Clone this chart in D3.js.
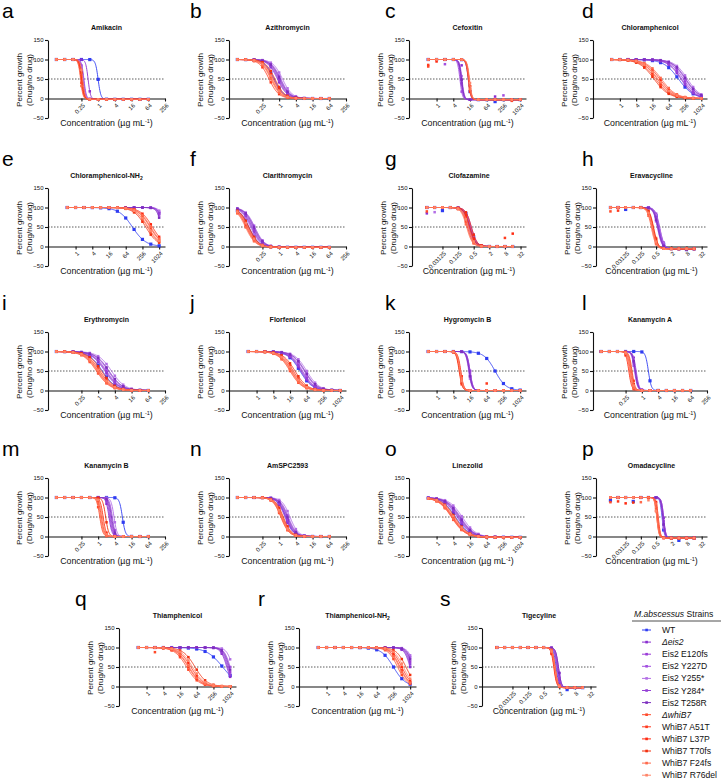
<!DOCTYPE html>
<html>
<head>
<meta charset="utf-8">
<script src="https://cdn.jsdelivr.net/npm/d3@7"></script>
<style>
body { margin: 0; background: #fff; }
text { font-family: "Liberation Sans", Arial, sans-serif; fill: #111; }
</style>
</head>
<body>
<svg id="fig" width="721" height="782"></svg>
<script>
// strains, in legend order
var strains = ['WT', 'Δeis2', 'Eis2 E120fs', 'Eis2 Y227D', 'Eis2 Y255*', 'Eis2 Y284*', 'Eis2 T258R',
               'ΔwhiB7', 'WhiB7 A51T', 'WhiB7 L37P', 'WhiB7 T70fs', 'WhiB7 F24fs', 'WhiB7 R76del'];
var strainColors = ['#2f3cf2', '#8a2fd0', '#9b3bd8', '#a24fe0', '#b36ee6', '#9440d6', '#7d2fbf',
                    '#ff4a2a', '#ff3a1e', '#ff2a12', '#f2300f', '#ff6a4c', '#ff8468'];

var drugs = ['Amikacin', 'Azithromycin', 'Cefoxitin', 'Chloramphenicol', 'Chloramphenicol-NH2',
             'Clarithromycin', 'Clofazamine', 'Eravacycline', 'Erythromycin', 'Florfenicol',
             'Hygromycin B', 'Kanamycin A', 'Kanamycin B', 'AmSPC2593', 'Linezolid',
             'Omadacycline', 'Thiamphenicol', 'Thiamphenicol-NH2', 'Tigecyline'];
var letters = 'abcdefghijklmnopqrs'.split('');
var axisKind = ['A','A','C','C','C','A','G','G','A','C','C','A','A','A','C','G','C','C','G'];

// concentration series (µg/mL) and tick labels for each axis kind
var dosesA = [0.03125, 0.0625, 0.125, 0.25, 0.5, 1, 2, 4, 8, 16, 32, 64];
var dosesC = [0.5, 1, 2, 4, 8, 16, 32, 64, 128, 256, 512, 1024];
var dosesG = [0.0078125, 0.015625, 0.03125, 0.0625, 0.125, 0.25, 0.5, 1, 2, 4, 8, 16];
var ticksA = ['0.25', '1', '4', '16', '64', '256'];
var ticksC = ['1', '4', '16', '64', '256', '1024'];
var ticksG = ['0.03125', '0.125', '0.5', '2', '8', '32'];

// fitted log2 IC50 per drug (rows) and strain (columns)
var logIC50 = [
  [0.0, -1.2, -1.75, -1.7, -1.8, -1.85, -1.9, -2.0, -1.95, -2.05, -1.9, -2.1, -1.85],
  [-0.6, -0.2, 0.0, 0.2, 0.4, -0.1, 0.1, -0.9, -1.2, -0.7, -0.5, -1.0, -0.8],
  [3.8, 2.9, 3.0, 2.8, 3.05, 2.95, 3.0, 3.85, 3.9, 3.8, 3.9, 3.85, 3.95],
  [7.2, 7.5, 7.8, 8.0, 8.3, 7.6, 8.1, 4.4, 4.6, 4.9, 4.2, 5.1, 4.7],
  [6.8, 10.5, 10.6, 10.4, 10.7, 10.5, 10.3, 8.6, 8.9, 9.2, 8.4, 9.0, 8.7],
  [-3.6, -3.3, -3.1, -2.9, -3.4, -3.2, -3.0, -3.8, -3.9, -3.7, -3.6, -4.0, -3.75],
  [-1.4, -1.5, -1.3, -1.6, -1.4, -1.7, -1.5, -1.6, -1.8, -1.5, -1.3, -1.9, -1.7],
  [-0.6, -0.5, -0.7, -0.8, -0.55, -0.65, -0.75, -1.3, -1.4, -1.5, -1.35, -1.6, -1.45],
  [0.5, 0.8, 1.0, 1.2, 1.6, 0.9, 1.3, -0.2, 0.0, 0.2, 0.4, -0.1, 0.1],
  [5.2, 5.3, 5.5, 5.7, 6.0, 5.4, 5.8, 4.0, 4.2, 4.4, 4.6, 4.1, 4.3],
  [7.0, 3.9, 4.0, 3.95, 3.85, 4.0, 3.9, 2.8, 2.7, 2.9, 2.75, 2.85, 2.8],
  [0.8, -0.7, -0.8, -0.9, -0.75, -0.85, -0.8, -1.2, -1.4, -1.6, -1.3, -1.5, -1.35],
  [2.9, 1.3, 1.5, 1.7, 1.9, 1.4, 1.6, 0.2, 0.4, 0.6, 0.9, 0.3, 0.5],
  [0.8, 0.7, 0.9, 1.1, 1.3, 0.8, 1.0, 0.2, 0.3, 0.4, 0.5, 0.25, 0.35],
  [2.3, 2.5, 2.7, 2.9, 3.1, 2.6, 2.8, 1.8, 1.9, 2.0, 2.2, 1.85, 2.1],
  [-0.2, -0.1, 0.0, -0.05, -0.15, 0.0, -0.1, -0.8, -0.9, -0.7, -0.85, -0.75, -0.9],
  [9.1, 9.6, 9.8, 10.0, 10.3, 9.7, 9.9, 4.8, 5.0, 5.3, 5.8, 5.1, 5.5],
  [8.0, 10.0, 10.2, 10.4, 10.5, 10.1, 10.3, 8.5, 8.8, 9.0, 9.5, 8.7, 9.2],
  [0.6, 0.8, 0.9, 0.7, 0.85, 0.75, 0.9, 0.35, 0.4, 0.3, 0.45, 0.5, 0.4]
];
// hill slope per drug: [WT, Eis2 strains, WhiB7 strains]
var hillSlope = [
  [9, 10, 10], [2.5, 2.5, 2.5], [10, 10, 10], [1.6, 1.8, 1.6], [1.8, 5, 2],
  [2.5, 2.5, 2.5], [4, 4, 4], [5, 5, 5], [1.8, 1.8, 1.8], [2, 2, 2],
  [2.2, 8, 8], [8, 8, 8], [8, 8, 8], [3, 3, 3], [1.8, 1.8, 1.8],
  [10, 10, 10], [1.5, 4, 2], [2, 4, 2.5], [8, 8, 8]
];
// bottom plateau (% growth) per drug
var bottomPct = [-2, 0, -3, 0, 0, -2, 0, -6, 0, 0, 0, 0, 0, 0, -2, -4, 0, 0, -3];

// measured points that sit off the fitted curve: [drug, strain, dose index, % growth]
var offCurvePoints = [
  [0, 3, 3, 68], [0, 7, 3, 52],
  [2, 7, 0, 82], [2, 8, 0, 86], [2, 9, 1, 95], [2, 3, 2, 88], [2, 1, 4, 85],
  [2, 3, 9, 8], [2, 1, 8, 5], [2, 0, 8, -8], [2, 7, 10, -6],
  [6, 1, 0, 85], [6, 7, 0, 90], [6, 4, 1, 88], [6, 0, 2, 92], [6, 8, 10, 22], [6, 9, 11, 33],
  [7, 7, 0, 90], [7, 8, 1, 92], [7, 0, 2, 95], [7, 0, 10, -8],
  [10, 8, 7, 18],
  [15, 7, 0, 88], [15, 8, 1, 90], [15, 9, 2, 85], [15, 0, 0, 92], [15, 10, 3, 87],
  [15, 0, 3, 90], [15, 11, 4, 88], [15, 12, 5, 93], [15, 0, 9, -10],
  [16, 7, 2, 88], [18, 0, 9, -8]
];

var svg = d3.select('#fig');
svg.append('rect').attr('width', 721).attr('height', 782).attr('fill', '#fff');

var colX = [48, 229, 409, 593];
var colW = [117, 117, 117, 114];
var rowTop = [40, 188, 332, 478, 628];
var row5X = [119, 299, 479];
var letterX = [2, 190, 385, 582];
var row5LetterX = [75, 258, 440];
var plotH = 78;

var kinds = {
  A: {doses: dosesA, ticks: ticksA, domain: [-6, 8]},
  C: {doses: dosesC, ticks: ticksC, domain: [-3.3, 10.7]},
  G: {doses: dosesG, ticks: ticksG, domain: [-8.9, 5.7]}
};

function groupOf(s) { return s === 0 ? 0 : (s < 7 ? 1 : 2); }

drugs.forEach(function(drug, i) {
  var row, x0, w, lx;
  if (i < 16) {
    row = Math.floor(i / 4);
    x0 = colX[i % 4]; w = colW[i % 4]; lx = letterX[i % 4];
  } else {
    row = 4;
    x0 = row5X[i - 16]; w = 117; lx = row5LetterX[i - 16];
  }
  var top = rowTop[row];
  var kind = kinds[axisKind[i]];
  if (axisKind[i] === 'G') { x0 += 3; w -= 3; }

  var x = d3.scaleLinear().domain(kind.domain).range([x0, x0 + w]);
  var y = d3.scaleLinear().domain([-50, 150]).range([top + plotH, top]);

  var g = svg.append('g');

  g.append('text').attr('x', lx).attr('y', top - 22)
    .style('font-size', '21px').style('fill', '#000').text(letters[i]);

  var title = g.append('text').attr('x', x0 + w / 2).attr('y', top - 10)
    .attr('text-anchor', 'middle').style('font-size', '7px').style('font-weight', 'bold');
  if (/NH2$/.test(drug)) {
    title.append('tspan').text(drug.slice(0, -1));
    title.append('tspan').attr('dy', 2).style('font-size', '5px').text('2');
  } else {
    title.text(drug);
  }

  // dotted 50% line
  g.append('line').attr('x1', x0).attr('x2', x0 + w)
    .attr('y1', y(50)).attr('y2', y(50))
    .attr('stroke', '#333').attr('stroke-width', 0.8).attr('stroke-dasharray', '1.5,1.5');

  var yAxis = d3.axisLeft(y).tickValues([-50, 0, 50, 100, 150]).tickSize(3).tickSizeOuter(0);
  var yg = g.append('g').attr('transform', 'translate(' + x0 + ',0)').call(yAxis);
  yg.selectAll('text').style('font-size', '6px').attr('x', -4.5);

  var tickLogs = kind.ticks.map(function(t) { return Math.log2(+t); });
  var xAxis = d3.axisBottom(x).tickValues(tickLogs)
    .tickFormat(function(d, k) { return kind.ticks[k]; }).tickSize(3).tickSizeOuter(0);
  var xg = g.append('g').attr('transform', 'translate(0,' + y(0) + ')').call(xAxis);
  xg.selectAll('text').style('font-size', '6px').style('text-anchor', 'end')
    .attr('x', 0).attr('y', 0).attr('dy', '0.35em')
    .attr('transform', 'translate(2,6) rotate(-45)');
  [xg, yg].forEach(function(a) {
    a.selectAll('path, line').attr('stroke', '#111').attr('stroke-width', 1.1);
  });

  g.append('text').attr('transform', 'translate(' + (x0 - 26) + ',' + (top + 40) + ') rotate(-90)')
    .attr('text-anchor', 'middle').style('font-size', '8px').text('Percent growth');
  g.append('text').attr('transform', 'translate(' + (x0 - 16) + ',' + (top + 40) + ') rotate(-90)')
    .attr('text-anchor', 'middle').style('font-size', '8px').text('(Drug/no drug)');

  var xl = g.append('text').attr('x', x0 + w / 2).attr('y', top + 86)
    .attr('text-anchor', 'middle').style('font-size', '8.8px');
  xl.append('tspan').text('Concentration (µg mL');
  xl.append('tspan').attr('dy', -3).style('font-size', '5.5px').text('-1');
  xl.append('tspan').attr('dy', 3).text(')');

  var lo = Math.log2(kind.doses[0]), hi = Math.log2(kind.doses[kind.doses.length - 1]);
  var bottom = bottomPct[i];

  strains.forEach(function(s, k) {
    var ic = logIC50[i][k], h = hillSlope[i][groupOf(k)];
    var fit = function(lx2) { return bottom + (100 - bottom) / (1 + Math.pow(2, h * (lx2 - ic))); };
    var pts = d3.range(lo, hi + 0.001, 0.04).map(function(v) { return [v, fit(v)]; });
    g.append('path').datum(pts)
      .attr('fill', 'none').attr('stroke', strainColors[k]).attr('stroke-width', 0.9)
      .attr('d', d3.line().x(function(d) { return x(d[0]); }).y(function(d) { return y(d[1]); }));
    var marks = kind.doses.map(function(d, j) {
      var hit = offCurvePoints.find(function(p) { return p[0] === i && p[1] === k && p[2] === j; });
      return [Math.log2(d), hit ? hit[3] : fit(Math.log2(d))];
    });
    var sz = k === 0 ? 3.2 : 2.5;
    g.selectAll(null).data(marks).enter().append('rect')
      .attr('x', function(d) { return x(d[0]) - sz / 2; })
      .attr('y', function(d) { return y(d[1]) - sz / 2; })
      .attr('width', sz).attr('height', sz)
      .attr('fill', strainColors[k]);
  });
});

// legend
var leg = svg.append('g');
var lt = leg.append('text').attr('x', 634).attr('y', 617).style('font-size', '8.6px');
lt.append('tspan').style('font-style', 'italic').text('M.abscessus');
lt.append('tspan').text(' Strains');
leg.append('line').attr('x1', 632).attr('x2', 721).attr('y1', 621).attr('y2', 621)
  .attr('stroke', '#222').attr('stroke-width', 0.8);
strains.forEach(function(s, k) {
  var yy = 630 + k * 12.1;
  leg.append('line').attr('x1', 642).attr('x2', 651).attr('y1', yy).attr('y2', yy)
    .attr('stroke', strainColors[k]).attr('stroke-width', 1);
  leg.append('rect').attr('x', 645.3).attr('y', yy - 1.3).attr('width', 2.6).attr('height', 2.6)
    .attr('fill', strainColors[k]);
  leg.append('text').attr('x', 662).attr('y', yy + 3).style('font-size', '8.6px')
    .style('font-style', s.charAt(0) === 'Δ' ? 'italic' : 'normal').text(s);
});
</script>
</body>
</html>
